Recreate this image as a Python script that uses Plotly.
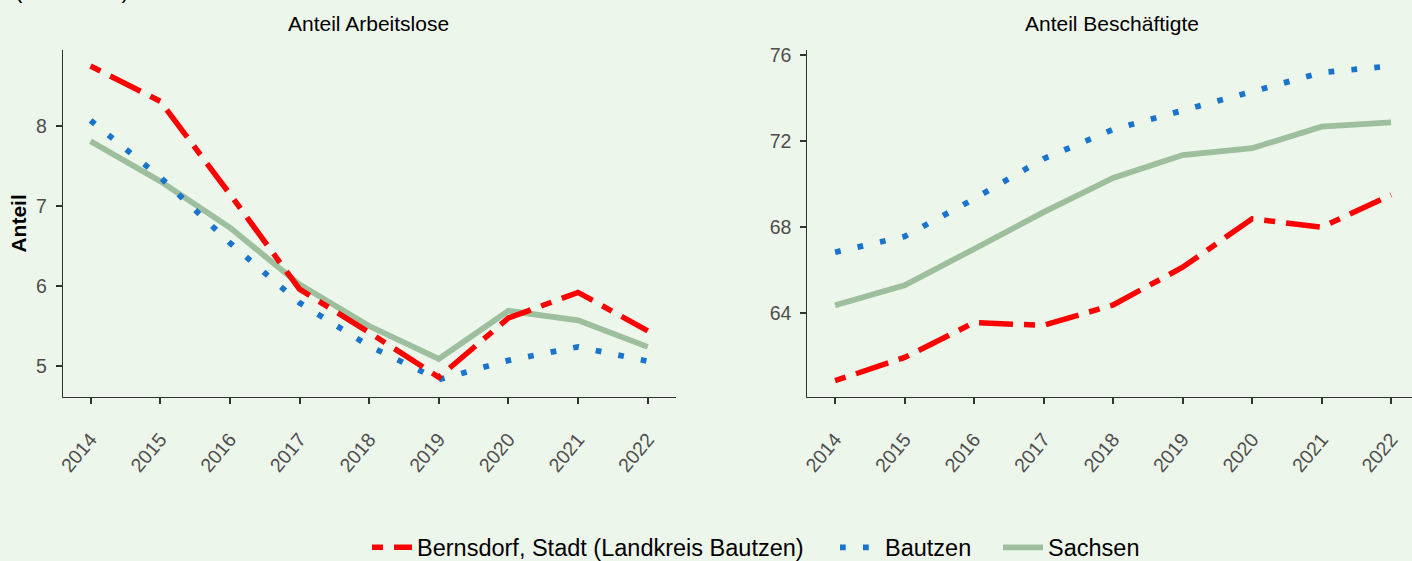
import plotly.graph_objects as go

# ---------------- data ----------------
years = [2014, 2015, 2016, 2017, 2018, 2019, 2020, 2021, 2022]
year_labels = [str(y) for y in years]

series_names = ["Bernsdorf, Stadt (Landkreis Bautzen)", "Bautzen", "Sachsen"]

arbeitslose_bernsdorf = [8.75, 8.31, 7.15, 5.96, 5.42, 4.86, 5.60, 5.92, 5.44]
arbeitslose_bautzen = [8.07, 7.36, 6.54, 5.79, 5.25, 4.83, 5.07, 5.24, 5.06]
arbeitslose_sachsen = [7.81, 7.31, 6.73, 6.02, 5.50, 5.09, 5.69, 5.57, 5.24]

beschaeftigte_bernsdorf = [60.87, 61.95, 63.57, 63.44, 64.39, 66.14, 68.39, 68.00, 69.50]
beschaeftigte_bautzen = [66.84, 67.57, 69.32, 71.18, 72.54, 73.44, 74.29, 75.18, 75.49]
beschaeftigte_sachsen = [64.37, 65.30, 66.99, 68.70, 70.29, 71.35, 71.67, 72.67, 72.87]

yticks_left = [5, 6, 7, 8]
yticks_right = [64, 68, 72, 76]

panel_titles = ["Anteil Arbeitslose", "Anteil Beschäftigte"]
y_title = "Anteil"
subtitle = "(in Prozent)"

# ---------------- styling ----------------
W, H = 1412, 561
BG = "#EDF6EB"
FONT = "Liberation Sans, Arial, Helvetica, sans-serif"
colors = ["#FF0000", "#1874CD", "#9DBF9D"]
dashes = ["11px,11px,34px,11px", "5.75px,17.25px", "solid"]
widths = [5.5, 5.75, 5.75]
draw_order = [2, 1, 0]  # Sachsen below, Bernsdorf on top
legend_ids = ["legend", "legend2", "legend3"]
legend_text_x = [419, 887, 1050]   # pixel x where each legend label starts
ITEMW = 40


def fx(p):
    return p / W


def fy(p):
    return 1 - p / H


fig = go.Figure()

left_data = [arbeitslose_bernsdorf, arbeitslose_bautzen, arbeitslose_sachsen]
right_data = [beschaeftigte_bernsdorf, beschaeftigte_bautzen, beschaeftigte_sachsen]

for i in draw_order:
    fig.add_trace(go.Scatter(
        x=years, y=left_data[i], mode="lines", name=series_names[i],
        line=dict(color=colors[i], width=widths[i], dash=dashes[i]),
        legendgroup=series_names[i], legend=legend_ids[i], showlegend=True,
        xaxis="x", yaxis="y",
    ))
    fig.add_trace(go.Scatter(
        x=years, y=right_data[i], mode="lines", name=series_names[i],
        line=dict(color=colors[i], width=widths[i], dash=dashes[i]),
        legendgroup=series_names[i], showlegend=False,
        xaxis="x2", yaxis="y2",
    ))

axis_common = dict(
    showline=True, linecolor="#333333", linewidth=1.1,
    ticks="outside", ticklen=6, tickwidth=1.5, tickcolor="#333333",
    tickfont=dict(family=FONT, size=19.5, color="#4D4D4D"),
    showgrid=False, zeroline=False, fixedrange=True, automargin=False,
)

ydom = [fy(397.3), fy(50)]

legend_common = dict(
    orientation="h", xanchor="left", y=fy(547.5), yanchor="middle",
    font=dict(family=FONT, size=23.5, color="#000000"),
    bgcolor="rgba(0,0,0,0)", itemwidth=ITEMW,
)

fig.update_layout(
    width=W, height=H,
    paper_bgcolor=BG, plot_bgcolor=BG,
    margin=dict(l=0, r=0, t=0, b=0, pad=0, autoexpand=False),
    font=dict(family=FONT, color="#000000"),
    xaxis=dict(domain=[fx(62.7), fx(675.6)], range=[2013.6, 2022.4],
               tickvals=years, ticktext=year_labels, tickangle=-50,
               ticklabelstandoff=16, anchor="y", **axis_common),
    yaxis=dict(domain=ydom, range=[4.609, 8.95], tickvals=yticks_left,
               ticktext=[str(v) for v in yticks_left], ticklabelstandoff=5,
               anchor="x", **axis_common),
    xaxis2=dict(domain=[fx(807.3), 1.0], range=[2013.6, 2022.3],
                tickvals=years, ticktext=year_labels, tickangle=-50,
                ticklabelstandoff=16, anchor="y2", **axis_common),
    yaxis2=dict(domain=ydom, range=[60.10, 76.23], tickvals=yticks_right,
                ticktext=[str(v) for v in yticks_right], ticklabelstandoff=5,
                anchor="x2", **axis_common),
    legend=dict(x=fx(legend_text_x[0] - ITEMW - 12), **legend_common),
    legend2=dict(x=fx(legend_text_x[1] - ITEMW - 12), **legend_common),
    legend3=dict(x=fx(legend_text_x[2] - ITEMW - 12), **legend_common),
    showlegend=True,
)

annotations = [
    dict(text=panel_titles[0], x=fx(369), y=fy(24), xref="paper", yref="paper",
         xanchor="center", yanchor="middle", showarrow=False,
         font=dict(family=FONT, size=21, color="#000000")),
    dict(text=panel_titles[1], x=fx(1112), y=fy(24), xref="paper", yref="paper",
         xanchor="center", yanchor="middle", showarrow=False,
         font=dict(family=FONT, size=21, color="#000000")),
    dict(text="<b>" + y_title + "</b>", x=fx(19), y=fy(223.6), xref="paper", yref="paper",
         xanchor="center", yanchor="middle", showarrow=False, textangle=-90,
         font=dict(family=FONT, size=21, color="#000000")),
    dict(text=subtitle, x=fx(13), y=fy(-9), xref="paper", yref="paper",
         xanchor="left", yanchor="middle", showarrow=False,
         font=dict(family=FONT, size=22, color="#000000")),
]
fig.update_layout(annotations=annotations)

fig.write_html("out.html", config={"displayModeBar": False},
               post_script="document.body.style.margin='0';")
